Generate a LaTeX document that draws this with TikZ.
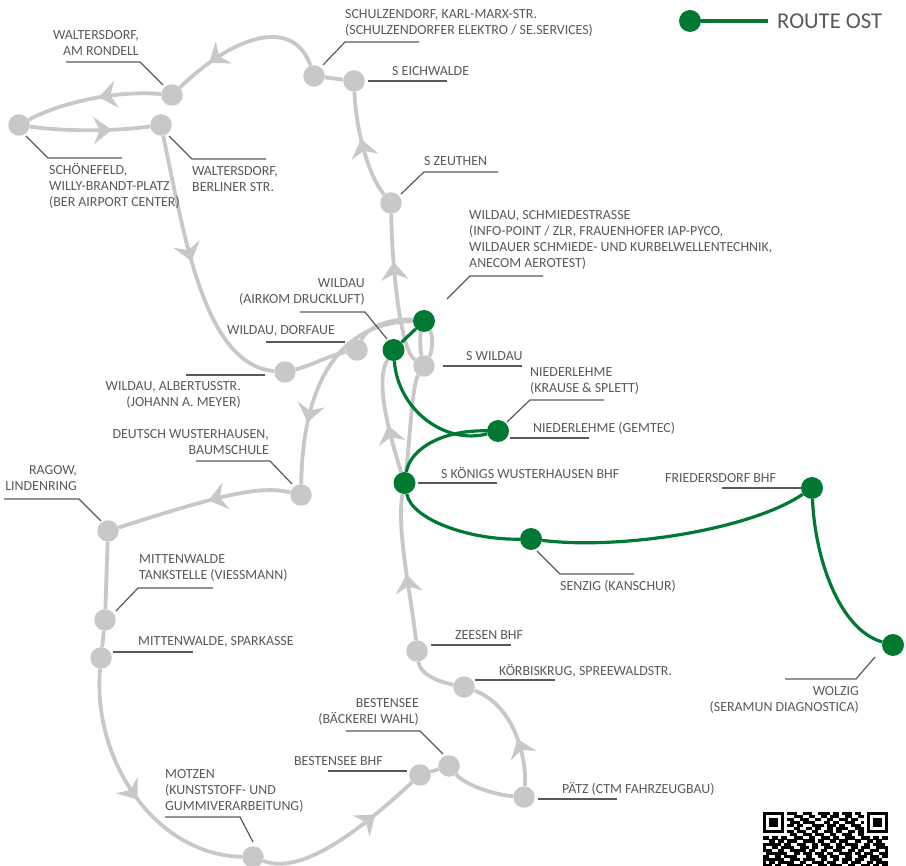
\documentclass[tikz,border=0pt]{standalone}
\usepackage{fontspec}
\setmainfont{Carlito}
\usetikzlibrary{arrows.meta,decorations.markings,backgrounds}
\definecolor{stopgray}{HTML}{C8C8C8}
\definecolor{routegreen}{HTML}{007A33}
\definecolor{labelgray}{HTML}{58595B}
\newcount\qrc
\def\qry{0}
\def\qrscan#1{\ifx#1\relax\else\if#11\fill[black] ({763+3.05*\the\qrc},\qry) rectangle +(3.12,3.12);\fi\global\advance\qrc by 1 \expandafter\qrscan\fi}
\tikzset{
  stopnode/.style={circle,fill=stopgray,minimum size=21.5pt,inner sep=0pt},
  greennode/.style={circle,fill=routegreen,minimum size=22pt,inner sep=0pt},
  grayline/.style={draw=stopgray,line width=3.8pt},
  greenline/.style={draw=routegreen,line width=3.2pt},
  leader/.style={draw=labelgray,line width=1.2pt},
  lab/.style={text=labelgray,font=\fontsize{13.9}{16}\selectfont,inner sep=0pt,align=left,anchor=west},
  labr/.style={text=labelgray,font=\fontsize{13.9}{16}\selectfont,inner sep=0pt,align=right,anchor=east},
  flow/.style={postaction={decorate,decoration={markings,mark=at position #1 with {\arrow{Stealth[length=18pt,width=27pt,inset=6pt,fill=stopgray]}}}}},
}
\begin{document}
\begin{tikzpicture}[x=1pt,y=-1pt]
\useasboundingbox (0,0) rectangle (906,866);
% stops
\node[stopnode] (schoen) at (19,125) {};
\node[stopnode] (rondell) at (172,95) {};
\node[stopnode] (berliner) at (161,125) {};
\node[stopnode] (schulz) at (314,76) {};
\node[stopnode] (eich) at (354,81) {};
\node[stopnode] (zeuthen) at (391,203) {};
\node[stopnode] (swildau) at (424,366) {};
\node[stopnode] (dorf) at (357,350) {};
\node[stopnode] (alb) at (285,372) {};
\node[stopnode] (baum) at (301,495) {};
\node[stopnode] (ragow) at (108,531) {};
\node[stopnode] (tank) at (105,620) {};
\node[stopnode] (spark) at (101,658) {};
\node[stopnode] (motzen) at (253,857) {};
\node[stopnode] (bhf) at (420,775) {};
\node[stopnode] (baeck) at (449,766) {};
\node[stopnode] (paetz) at (524,797) {};
\node[stopnode] (koerb) at (464,687) {};
\node[stopnode] (zeesen) at (417,651) {};
\node[greennode] (top) at (424,321) {};
\node[greennode] (airkom) at (393.5,350) {};
\node[greennode] (nied) at (498,431) {};
\node[greennode] (kw) at (404.5,483) {};
\node[greennode] (senzig) at (531,539) {};
\node[greennode] (fried) at (812,488) {};
\node[greennode] (wolzig) at (893,645) {};
\node[greennode] (legdot) at (690,21) {};
\coordinate (legend) at (768,21);
% connectors
\begin{scope}[on background layer]
\path[grayline,flow=.46] (rondell) .. controls (115,90) and (60,103) .. (schoen);
\path[grayline,flow=.68] (schoen) .. controls (60,131) and (110,132) .. (berliner);
\path[grayline,flow=.76] (schulz) .. controls (295,20) and (240,30) .. (rondell);
\path[grayline] (schulz) -- (eich);
\path[grayline,flow=.56] (zeuthen) .. controls (368,175) and (356,130) .. (eich);
\path[grayline,flow=.68] (swildau) .. controls (400,350) and (392,265) .. (zeuthen);
\path[grayline] (swildau) .. controls (420,350) and (420,335) .. (top);
\path[grayline] (swildau) .. controls (433,350) and (433,335) .. (top);
\path[grayline] (kw) .. controls (410,440) and (412,385) .. (swildau);
\path[grayline,flow=.42] (kw) .. controls (388,430) and (375,380) .. (airkom);
\path[grayline,flow=.45] (zeesen) .. controls (412,600) and (396,530) .. (kw);
\path[grayline] (koerb) .. controls (440,682) and (420,675) .. (zeesen);
\path[grayline,flow=.42] (paetz) .. controls (527,760) and (515,705) .. (koerb);
\path[grayline] (baeck) .. controls (465,785) and (495,795) .. (paetz);
\path[grayline] (bhf) -- (baeck);
\path[grayline,flow=.72] (motzen) .. controls (300,875) and (355,835) .. (bhf);
\path[grayline,flow=.53] (spark) .. controls (92,760) and (155,855) .. (motzen);
\path[grayline] (tank) -- (spark);
\path[grayline] (ragow) -- (tank);
\path[grayline,flow=.47] (baum) .. controls (260,485) and (220,495) .. (ragow);
\path[grayline,flow=.72] (top) .. controls (350,322) and (303,368) .. (baum);
\path[grayline] (alb) .. controls (310,366) and (330,355) .. (dorf);
\path[grayline] (dorf) .. controls (368,325) and (395,318) .. (top);
\path[grayline,flow=.47] (berliner) .. controls (185,240) and (205,365) .. (alb);
\path[greenline] (airkom) -- (top);
\path[greenline] (airkom) .. controls (398,410) and (445,445) .. (nied);
\path[greenline] (nied) .. controls (440,430) and (410,450) .. (kw);
\path[greenline] (kw) .. controls (412,520) and (470,540) .. (senzig);
\path[greenline] (senzig) .. controls (620,550) and (750,530) .. (fried);
\path[greenline] (fried) .. controls (815,560) and (840,630) .. (wolzig);
\path[greenline] (legdot) -- (legend);
\end{scope}
% leaders
\draw[leader] ([shift={(-9,-10)}]rondell.center) -- ++(-23,-23) -- ++(-74,0);
\draw[leader] ([shift={(7,11)}]schoen.center) -- ++(22,22) -- ++(74,0);
\draw[leader] ([shift={(8,11)}]berliner.center) -- ++(23,23) -- ++(74,0);
\draw[leader] ([shift={(9,-11)}]schulz.center) -- ++(22,-23) -- ++(74,0);
\draw[leader] ([shift={(14,0)}]eich.center) -- ++(79,0);
\draw[leader] ([shift={(10,-9)}]zeuthen.center) -- ++(23,-22) -- ++(74,0);
\draw[leader] ([shift={(23,-22)}]top.center) -- ++(23,-23) -- ++(73,0);
\draw[leader] ([shift={(-6.5,-11)}]airkom.center) -- ++(-22,-27) -- ++(-65,0);
\draw[leader] ([shift={(-12,-8)}]dorf.center) -- ++(-79,0);
\draw[leader] ([shift={(19,0)}]swildau.center) -- ++(79,0);
\draw[leader] ([shift={(-20,3)}]alb.center) -- ++(-79,0);
\draw[leader] ([shift={(9,-9)}]nied.center) -- ++(23,-22) -- ++(74,0);
\draw[leader] ([shift={(12,7)}]nied.center) -- ++(79,0);
\draw[leader] ([shift={(13,0)}]kw.center) -- ++(79,0);
\draw[leader] ([shift={(-9,-11)}]baum.center) -- ++(-22,-23) -- ++(-74,0);
\draw[leader] ([shift={(-7,-10)}]ragow.center) -- ++(-22,-22) -- ++(-75,0);
\draw[leader] ([shift={(11,-9)}]tank.center) -- ++(22,-23) -- ++(75,0);
\draw[leader] ([shift={(12,-6)}]spark.center) -- ++(80,0);
\draw[leader] ([shift={(-11,0)}]fried.center) -- ++(-79,0);
\draw[leader] ([shift={(6,12)}]senzig.center) -- ++(23,23) -- ++(74,0);
\draw[leader] ([shift={(14,-6)}]zeesen.center) -- ++(80,0);
\draw[leader] ([shift={(11,-7)}]koerb.center) -- ++(80,0);
\draw[leader] ([shift={(-18,12)}]wolzig.center) -- ++(-19,22) -- ++(-71,0);
\draw[leader] ([shift={(14,2)}]paetz.center) -- ++(79,0);
\draw[leader] ([shift={(-6,-12)}]baeck.center) -- ++(-23,-23) -- ++(-74,0);
\draw[leader] ([shift={(-13,-4)}]bhf.center) -- ++(-79,0);
\draw[leader] ([shift={(0,-15)}]motzen.center) -- ++(-13,-25) -- ++(-75,0);
% labels
\node[labr] (t1) at (139,43) {WALTERSDORF,\\AM RONDELL};
\node[lab] (t2) at (49,186) {SCHÖNEFELD,\\WILLY-BRANDT-PLATZ\\(BER AIRPORT CENTER)};
\node[lab] (t3) at (192,179) {WALTERSDORF,\\BERLINER STR.};
\node[lab] (t4) at (345,22.5) {SCHULZENDORF, KARL-MARX-STR.\\(SCHULZENDORFER ELEKTRO / SE.SERVICES)};
\node[lab] (t5) at (392,71) {S EICHWALDE};
\node[lab] (t6) at (424,161) {S ZEUTHEN};
\node[lab] (t7) at (469,239.5) {WILDAU, SCHMIEDESTRASSE\\(INFO-POINT / ZLR, FRAUENHOFER IAP-PYCO,\\WILDAUER SCHMIEDE- UND KURBELWELLENTECHNIK,\\ANECOM AEROTEST)};
\node[labr] (t8) at (365,292) {WILDAU\\(AIRKOM DRUCKLUFT)};
\node[lab] (t9) at (227,331) {WILDAU, DORFAUE};
\node[lab] (t10) at (466,356) {S WILDAU};
\node[labr] (t11) at (241,395) {WILDAU, ALBERTUSSTR.\\(JOHANN A. MEYER)};
\node[lab] (t12) at (530,381) {NIEDERLEHME\\(KRAUSE \& SPLETT)};
\node[lab] (t13) at (533,428) {NIEDERLEHME (GEMTEC)};
\node[lab] (t14) at (441,473) {S KÖNIGS WUSTERHAUSEN BHF};
\node[labr] (t15) at (269,442) {DEUTSCH WUSTERHAUSEN,\\BAUMSCHULE};
\node[labr] (t16) at (77,478.5) {RAGOW,\\LINDENRING};
\node[lab] (t17) at (139,568) {MITTENWALDE\\TANKSTELLE (VIESSMANN)};
\node[lab] (t18) at (138,642) {MITTENWALDE, SPARKASSE};
\node[lab] (t19) at (665,478) {FRIEDERSDORF BHF};
\node[lab] (t20) at (560,586) {SENZIG (KANSCHUR)};
\node[lab] (t21) at (455,635) {ZEESEN BHF};
\node[lab] (t22) at (499,671) {KÖRBISKRUG, SPREEWALDSTR.};
\node[labr] (t23) at (859,700) {WOLZIG\\(SERAMUN DIAGNOSTICA)};
\node[lab] (t24) at (562,789) {PÄTZ (CTM FAHRZEUGBAU)};
\node[labr] (t25) at (419,711.5) {BESTENSEE\\(BÄCKEREI WAHL)};
\node[labr] (t26) at (383,761) {BESTENSEE BHF};
\node[lab] (t27) at (165,791) {MOTZEN\\(KUNSTSTOFF- UND\\GUMMIVERARBEITUNG)};
\node[lab,font=\fontsize{22.6}{26}\selectfont] (t28) at (777,21) {ROUTE OST};
% QR code
\foreach \s [count=\r from 0] in {
11111110111001110011110110111011001111111,
10000010001110011001101110011001101000001,
10111010110011100110011001110110001011101,
10111010011101111000110110011100101011101,
10111010110110001111011101100111001011101,
10000010001100110110011011110011101000001,
11111110110111001100111011001101101111111,
00000000011001110111001100111001100000000,
11011011001110011001110110011100111011011,
00110110111001111011001101110011001101100,
11111101100111001101110011011110011011110,
10011011110011101100111011100110111001111,
11100110011111011001100111001101100111001,
01111111001101110111011001111011011100111,
11001101111000110011101110011001110111011,
11111110011101111001100110111011100111100,
10110111110011001111011100110111001101111,
11101100111110110011101111001100111011011}{
  \global\qrc=0
  \pgfmathsetmacro{\qry}{812+3.05*\r}
  \expandafter\qrscan\s\relax
}
\end{tikzpicture}
\end{document}
